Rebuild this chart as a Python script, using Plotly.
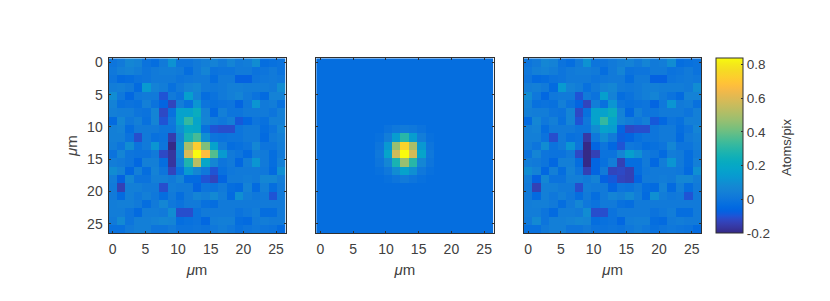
import plotly.graph_objects as go

W, H = 830, 301
pixel_um = 1.29
tick_vals = [0, 5, 10, 15, 20, 25]
cbar_ticks = [-0.2, 0, 0.2, 0.4, 0.6, 0.8]
cbar_labels = ["-0.2", "0", "0.2", "0.4", "0.6", "0.8"]
zmin, zmax = -0.2, 0.84
model_floor = -0.03
read_offset = -0.03

measured_read = [
[0.03,0.05,0.10,0.08,0.02,0.00,0.05,0.14,0.03,0.03,0.05,0.07,0.08,0.05,0.09,0.05,0.06,0.12,0.00,0.01,0.02],
[0.04,0.07,0.08,0.06,0.03,0.05,0.06,0.06,0.05,0.00,0.05,0.09,0.02,0.03,0.03,0.05,0.05,0.02,0.03,0.05,0.02],
[0.03,-0.01,0.00,0.02,0.03,0.05,0.05,0.05,0.03,0.04,0.05,0.05,0.00,0.05,0.05,-0.04,-0.04,0.03,0.04,0.05,0.04],
[0.06,0.07,0.05,-0.01,0.17,0.08,0.06,0.01,0.05,0.08,0.10,0.05,0.04,0.05,0.07,0.07,0.06,0.06,0.06,0.05,0.12],
[0.12,0.04,-0.02,0.04,0.05,0.05,-0.07,0.05,0.02,0.19,0.08,0.00,0.02,0.05,0.07,0.09,0.05,0.02,-0.01,0.08,0.08],
[0.08,0.01,0.02,0.01,0.07,0.02,-0.03,-0.10,0.06,0.01,0.15,0.03,0.01,0.02,0.03,-0.03,0.04,0.15,0.05,0.06,0.01],
[0.07,0.06,0.06,0.03,0.02,0.09,-0.09,0.01,0.20,0.20,0.26,0.08,-0.02,0.07,0.03,0.03,0.05,0.05,0.05,0.03,0.07],
[-0.01,0.10,0.04,0.07,0.01,0.09,-0.07,0.04,0.20,0.35,0.21,0.09,0.06,0.04,0.07,-0.06,-0.02,0.03,0.01,0.07,0.07],
[0.07,0.08,0.00,0.05,0.05,0.05,0.03,0.03,0.14,0.24,0.23,0.01,-0.07,-0.08,-0.08,0.03,0.05,0.05,0.00,0.03,0.09],
[0.07,0.07,0.02,-0.08,0.05,0.01,0.02,-0.12,0.10,0.30,0.38,0.13,0.03,0.02,0.03,0.03,0.05,0.05,-0.01,0.05,0.07],
[0.06,0.03,0.12,0.02,0.05,0.15,0.03,-0.19,0.13,0.53,0.75,0.46,0.20,0.06,0.00,0.01,0.03,0.10,0.03,0.03,0.06],
[0.02,0.09,0.03,0.02,0.02,0.05,-0.09,-0.14,0.10,0.62,0.90,0.70,0.40,0.17,0.05,0.03,-0.01,0.06,0.05,0.00,0.05],
[0.06,0.05,0.03,-0.02,0.07,0.07,0.00,-0.14,0.07,0.31,0.56,0.22,0.10,0.03,0.05,-0.02,0.06,0.15,0.05,0.00,0.07],
[0.12,0.08,-0.02,0.07,0.00,0.08,0.03,-0.10,0.01,0.17,0.10,0.04,-0.07,0.01,0.04,0.05,0.05,0.05,0.04,-0.01,0.13],
[0.06,-0.04,0.10,0.02,0.02,0.07,0.07,0.05,0.09,-0.01,-0.01,-0.07,-0.10,-0.03,0.05,0.05,0.06,0.05,0.10,0.10,0.06],
[0.05,-0.11,0.07,0.07,0.05,0.05,-0.08,0.06,0.05,0.05,-0.03,0.03,0.02,0.05,0.00,-0.01,0.08,-0.01,0.07,0.00,0.05],
[0.05,-0.01,0.07,0.04,0.07,0.04,0.00,0.05,0.00,0.05,0.09,0.07,0.11,0.06,-0.01,0.13,0.06,0.04,0.05,-0.07,0.05],
[0.06,0.07,0.07,0.05,0.00,0.05,0.10,0.04,0.02,0.05,0.05,0.01,0.00,0.05,0.05,0.05,0.05,0.05,0.05,0.05,0.05],
[0.06,0.06,0.03,-0.01,0.06,0.06,0.05,0.12,-0.08,-0.08,0.02,0.05,0.05,0.05,0.05,0.02,0.04,0.06,0.00,0.00,0.05],
[0.05,0.11,0.03,0.07,0.07,0.08,0.10,0.09,0.00,0.01,0.02,-0.02,0.06,0.07,0.07,0.00,-0.01,0.05,0.06,0.05,0.05],
[0.01,0.01,0.05,0.07,0.07,0.03,0.03,0.05,0.02,0.02,0.03,0.02,0.04,0.06,0.04,0.01,0.03,0.04,0.03,0.02,-0.01],
]
measured = [[v + read_offset for v in row] for row in measured_read]

zero_row = [0.0] * 21
model_core = {
    8:  [0,0,0,0,0,0,0,0,0.02,0.04,0.05,0.04,0.02,0,0,0,0,0,0,0,0],
    9:  [0,0,0,0,0,0,0,0.01,0.06,0.18,0.33,0.18,0.06,0.01,0,0,0,0,0,0,0],
    10: [0,0,0,0,0,0,0,0.03,0.16,0.50,0.77,0.53,0.16,0.03,0,0,0,0,0,0,0],
    11: [0,0,0,0,0,0,0,0.04,0.21,0.60,0.88,0.61,0.21,0.04,0,0,0,0,0,0,0],
    12: [0,0,0,0,0,0,0,0.03,0.10,0.30,0.50,0.33,0.10,0.03,0,0,0,0,0,0,0],
    13: [0,0,0,0,0,0,0,0.01,0.04,0.12,0.20,0.13,0.04,0.01,0,0,0,0,0,0,0],
    14: [0,0,0,0,0,0,0,0,0.01,0.03,0.05,0.03,0.01,0,0,0,0,0,0,0,0],
}
model_excess = [model_core.get(r, zero_row) for r in range(21)]

model = [[model_floor + v for v in row] for row in model_excess]
residual = [[a - b for a, b in zip(ra, rb)] for ra, rb in zip(measured, model_excess)]

axis_um = [i * pixel_um for i in range(21)]

parula = [
[0.2081,0.1663,0.5292],[0.2116,0.1898,0.5777],[0.2123,0.2138,0.6270],[0.2081,0.2386,0.6771],
[0.1959,0.2645,0.7279],[0.1707,0.2919,0.7792],[0.1253,0.3242,0.8303],[0.0591,0.3598,0.8683],
[0.0117,0.3875,0.8820],[0.0060,0.4086,0.8828],[0.0165,0.4266,0.8786],[0.0329,0.4430,0.8720],
[0.0498,0.4586,0.8641],[0.0629,0.4737,0.8554],[0.0723,0.4887,0.8467],[0.0779,0.5040,0.8384],
[0.0793,0.5200,0.8312],[0.0749,0.5375,0.8263],[0.0641,0.5570,0.8240],[0.0488,0.5772,0.8228],
[0.0343,0.5966,0.8199],[0.0265,0.6137,0.8135],[0.0239,0.6287,0.8038],[0.0231,0.6418,0.7913],
[0.0228,0.6535,0.7768],[0.0267,0.6642,0.7607],[0.0384,0.6743,0.7436],[0.0590,0.6838,0.7254],
[0.0843,0.6928,0.7062],[0.1133,0.7015,0.6859],[0.1453,0.7098,0.6646],[0.1801,0.7177,0.6424],
[0.2178,0.7250,0.6193],[0.2586,0.7317,0.5954],[0.3022,0.7376,0.5712],[0.3482,0.7424,0.5473],
[0.3953,0.7459,0.5244],[0.4420,0.7481,0.5033],[0.4871,0.7491,0.4840],[0.5300,0.7491,0.4661],
[0.5709,0.7485,0.4494],[0.6099,0.7473,0.4337],[0.6473,0.7456,0.4188],[0.6834,0.7435,0.4044],
[0.7184,0.7411,0.3905],[0.7525,0.7384,0.3768],[0.7858,0.7356,0.3633],[0.8185,0.7327,0.3498],
[0.8507,0.7299,0.3360],[0.8824,0.7274,0.3217],[0.9139,0.7258,0.3063],[0.9450,0.7261,0.2886],
[0.9739,0.7314,0.2666],[0.9938,0.7455,0.2403],[0.9990,0.7653,0.2164],[0.9955,0.7861,0.1967],
[0.9880,0.8066,0.1794],[0.9789,0.8271,0.1633],[0.9697,0.8481,0.1475],[0.9626,0.8705,0.1309],
[0.9589,0.8949,0.1132],[0.9598,0.9218,0.0948],[0.9661,0.9514,0.0755],[0.9763,0.9831,0.0538],
]
colorscale = [[i / (len(parula) - 1), "rgb(%d,%d,%d)" % tuple(round(c * 255) for c in rgb)]
              for i, rgb in enumerate(parula)]

INK = "#404040"
LINE = "#303030"
FONT = "Liberation Sans, Arial, sans-serif"
panels_px = [(108.5, 285.5), (316.2, 493.6), (524, 701.2)]
top_px, bot_px = 55, 232
dom_y = [1 - bot_px / H, 1 - top_px / H]
half = pixel_um / 2
x_range = [axis_um[0] - half, axis_um[-1] + half]

fig = go.Figure()
for i, (z, (l, r)) in enumerate(zip([measured, model, residual], panels_px), start=1):
    trace = dict(
        z=z, x=axis_um, y=axis_um, xaxis=f"x{i}", yaxis=f"y{i}",
        colorscale=colorscale, zmin=zmin, zmax=zmax, zsmooth=False,
        showscale=(i == 3), hoverinfo="skip",
    )
    if i == 3:
        trace["colorbar"] = dict(
            x=716 / W, xanchor="left", xref="paper",
            y=dom_y[0], yanchor="bottom", yref="paper",
            len=dom_y[1] - dom_y[0], lenmode="fraction",
            thickness=27, thicknessmode="pixels",
            tickmode="array", tickvals=cbar_ticks, ticktext=cbar_labels,
            ticks="inside", ticklen=2, tickcolor=LINE, tickwidth=1,
            tickfont=dict(family=FONT, size=13.5, color=INK),
            outlinecolor=LINE, outlinewidth=1, xpad=0, ypad=0,
        )
    fig.add_trace(go.Heatmap(**trace))
    common = dict(
        tickmode="array", tickvals=tick_vals, ticks="inside", ticklen=2, tickwidth=1,
        tickcolor=LINE, showline=True, linecolor=LINE, linewidth=1, mirror="ticks",
        showgrid=False, zeroline=False, color=INK,
        tickfont=dict(family=FONT, size=14, color=INK),
    )
    fig.update_layout({
        f"xaxis{i}": dict(common, domain=[l / W, r / W], range=x_range, anchor=f"y{i}",
                          ticklabelstandoff=3,
                          title=dict(text="<i>μ</i>m", standoff=8,
                                     font=dict(family=FONT, size=15, color=INK))),
        f"yaxis{i}": dict(common, domain=dom_y, range=x_range[::-1], anchor=f"x{i}",
                          showticklabels=(i == 1), ticklabelstandoff=2,
                          title=dict(text="<i>μ</i>m" if i == 1 else "", standoff=5,
                                     font=dict(family=FONT, size=15, color=INK))),
    })

fig.add_annotation(
    text="Atoms/pix", textangle=-90, showarrow=False,
    xref="paper", yref="paper", x=786 / W, y=1 - 145 / H,
    xanchor="center", yanchor="middle",
    font=dict(family=FONT, size=13, color=INK),
)

fig.update_layout(
    width=W, height=H, margin=dict(l=0, r=0, t=0, b=0),
    paper_bgcolor="white", plot_bgcolor="white", showlegend=False,
    font=dict(family=FONT, color=INK),
)
fig.write_html("out.html", config={"displayModeBar": False},
               post_script="document.body.style.margin='0';")
